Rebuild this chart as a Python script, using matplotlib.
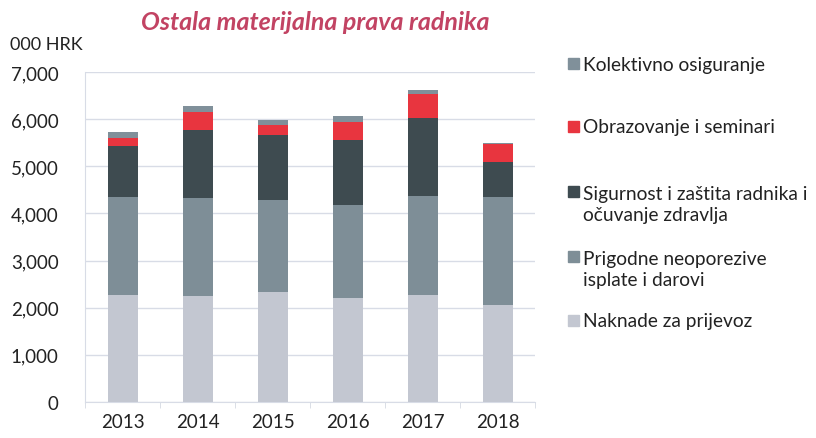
import numpy as np
import matplotlib
matplotlib.use("Agg")
from matplotlib import pyplot as plt
from matplotlib.patches import Rectangle

plt.rcParams['font.family'] = ['Lato', 'DejaVu Sans']

years = ["2013", "2014", "2015", "2016", "2017", "2018"]
naknade = [2260, 2250, 2330, 2200, 2280, 2050]
prigodne = [2080, 2070, 1950, 1980, 2100, 2300]
sigurnost = [1090, 1440, 1390, 1380, 1650, 750]
obrazovanje = [180, 400, 210, 390, 500, 380]
kolektivno = [110, 120, 100, 110, 90, 10]

series = [
    (naknade, "#c3c7d1", "Naknade za prijevoz"),
    (prigodne, "#7e8e97", "Prigodne neoporezive\nisplate i darovi"),
    (sigurnost, "#3e4b50", "Sigurnost i zaštita radnika i\nočuvanje zdravlja"),
    (obrazovanje, "#e8353f", "Obrazovanje i seminari"),
    (kolektivno, "#80909a", "Kolektivno osiguranje"),
]

fig = plt.figure(figsize=(8.16, 4.39), dpi=100)
ax = fig.add_axes([85 / 816, 36 / 439, 450 / 816, 330 / 439])

x = np.arange(len(years))
bottom = np.zeros(len(years))
for vals, col, lab in series:
    ax.bar(x, vals, width=0.4, bottom=bottom, color=col, zorder=3)
    bottom += np.array(vals)

ax.set_xlim(-0.5, len(years) - 0.5)
ax.set_ylim(0, 7000)
ax.set_yticks(range(0, 7001, 1000))
ax.set_yticklabels([f"{v:,}" for v in range(0, 7001, 1000)])
ax.set_xticks(x)
ax.set_xticklabels(years)
ax.set_xticks(np.arange(-0.5, len(years), 1), minor=True)
ax.tick_params(axis='y', length=0, pad=19, labelsize=13.5, colors="#222222")
ax.tick_params(axis='x', which='major', length=0, pad=8, labelsize=13.5, colors="#222222")
ax.tick_params(axis='x', which='minor', length=4, color="#d5d9e2")
ax.grid(axis='y', color="#d8dce6", linewidth=1, zorder=0)
for s in ["top", "right"]:
    ax.spines[s].set_visible(False)
ax.spines["left"].set_color("#d8dce6")
ax.spines["bottom"].set_color("#d8dce6")

fig.text(315 / 816, 1 - 22 / 439, "Ostala materijalna prava radnika", ha="center", va="center",
         fontsize=18, fontweight="bold", fontstyle="italic", color="#c24363")
fig.text(10 / 816, 1 - 45 / 439, "000 HRK", ha="left", va="center", fontsize=13, color="#222222")

# legend placed by hand, order top to bottom as in the original
legend_rows = [(kolektivno, 65), (obrazovanje, 128), (sigurnost, 205), (prigodne, 270), (naknade, 322)]
lookup = {id(v): (c, l) for v, c, l in series}
for vals, yc in legend_rows:
    col, lab = lookup[id(vals)]
    nlines = lab.count("\n") + 1
    y_first = yc - (nlines - 1) * 12
    fig.patches.append(Rectangle((568 / 816, 1 - (y_first + 5) / 439), 11 / 816, 11 / 439,
                                 transform=fig.transFigure, color=col))
    fig.text(583 / 816, 1 - yc / 439, lab, ha="left", va="center", fontsize=13.8,
             color="#222222", linespacing=1.25)

fig.savefig("out.png", dpi=100)
